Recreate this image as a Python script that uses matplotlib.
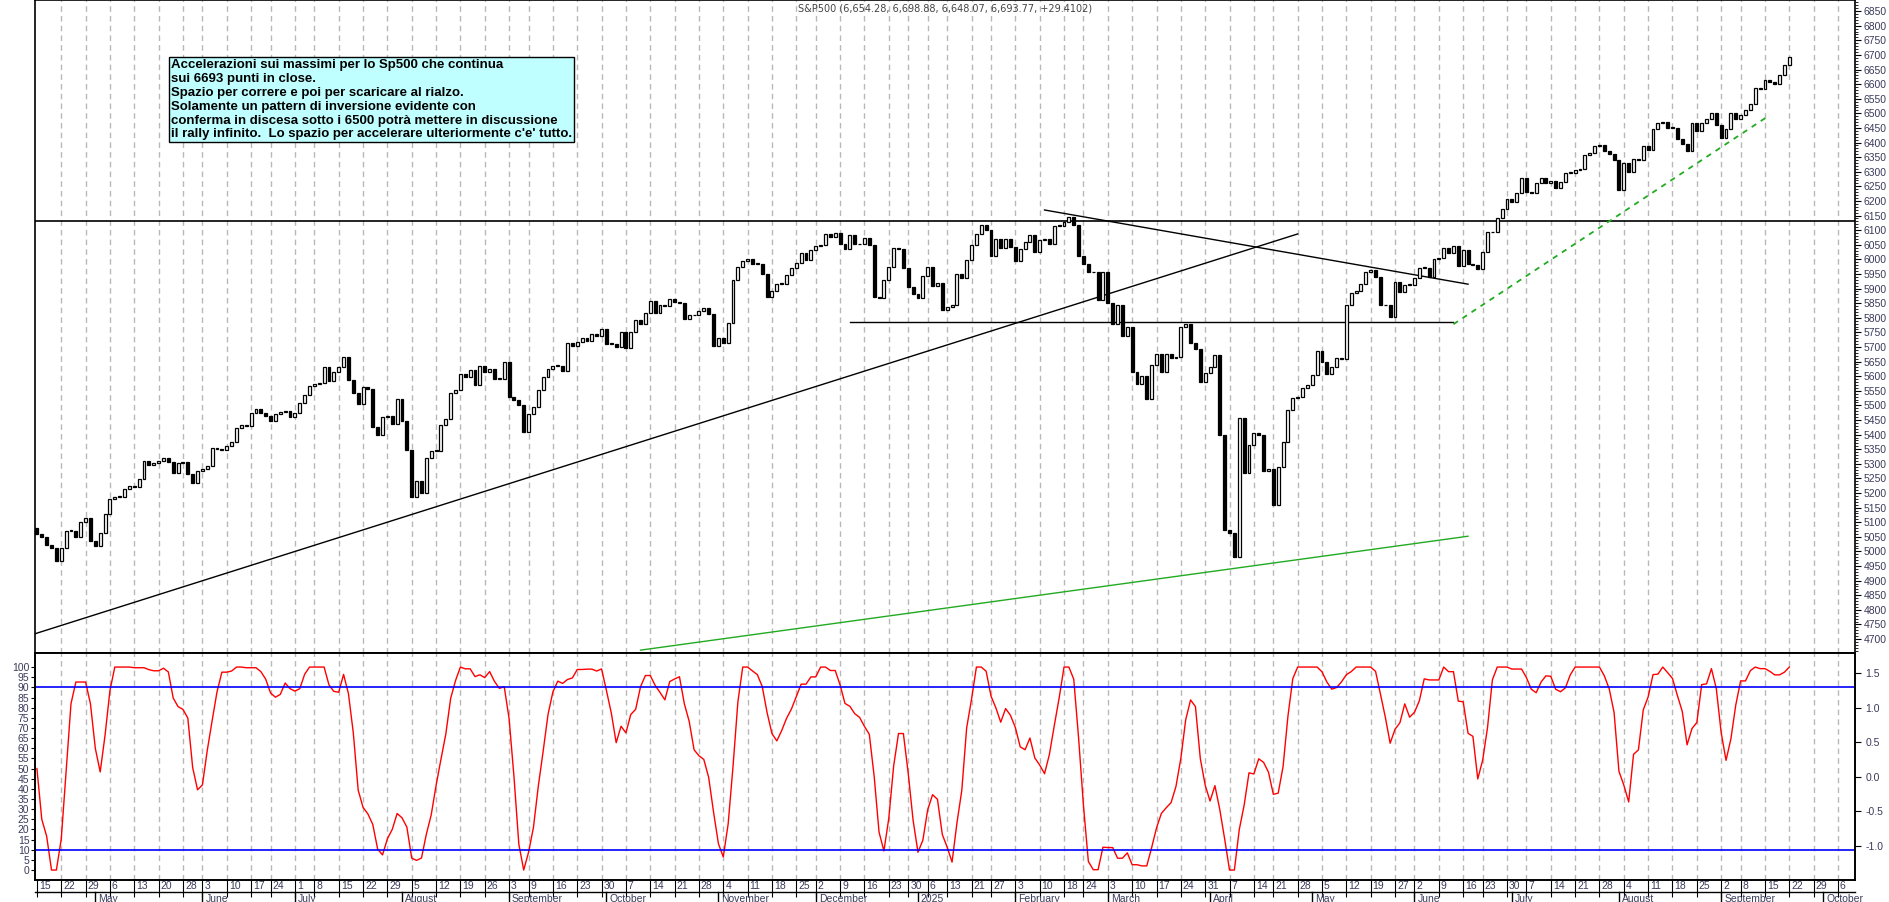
import io
import pandas as pd
import numpy as np
import matplotlib
matplotlib.use("Agg")
import matplotlib.pyplot as plt

# daily closes, S&P500
closes_text = """
2024-04-15 5061
2024-04-16 5051
2024-04-17 5022
2024-04-18 5011
2024-04-19 4967
2024-04-22 5010
2024-04-23 5070
2024-04-24 5071
2024-04-25 5048
2024-04-26 5100
2024-04-29 5116
2024-04-30 5035
2024-05-01 5018
2024-05-02 5064
2024-05-03 5128
2024-05-06 5181
2024-05-07 5187
2024-05-08 5188
2024-05-09 5214
2024-05-10 5223
2024-05-13 5221
2024-05-14 5247
2024-05-15 5308
2024-05-16 5297
2024-05-17 5303
2024-05-20 5308
2024-05-21 5321
2024-05-22 5307
2024-05-23 5267
2024-05-24 5304
2024-05-28 5306
2024-05-29 5266
2024-05-30 5235
2024-05-31 5277
2024-06-03 5283
2024-06-04 5291
2024-06-05 5354
2024-06-06 5352
2024-06-07 5347
2024-06-10 5360
2024-06-11 5375
2024-06-12 5421
2024-06-13 5433
2024-06-14 5431
2024-06-17 5473
2024-06-18 5487
2024-06-20 5473
2024-06-21 5464
2024-06-24 5447
2024-06-25 5469
2024-06-26 5477
2024-06-27 5482
2024-06-28 5460
2024-07-01 5475
2024-07-02 5509
2024-07-03 5537
2024-07-05 5567
2024-07-08 5572
2024-07-09 5577
2024-07-10 5633
2024-07-11 5584
2024-07-12 5615
2024-07-15 5631
2024-07-16 5667
2024-07-17 5588
2024-07-18 5544
2024-07-19 5505
2024-07-22 5564
2024-07-23 5555
2024-07-24 5427
2024-07-25 5399
2024-07-26 5459
2024-07-29 5463
2024-07-30 5436
2024-07-31 5522
2024-08-01 5446
2024-08-02 5346
2024-08-05 5186
2024-08-06 5240
2024-08-07 5199
2024-08-08 5319
2024-08-09 5344
2024-08-12 5344
2024-08-13 5434
2024-08-14 5455
2024-08-15 5543
2024-08-16 5554
2024-08-19 5608
2024-08-20 5597
2024-08-21 5621
2024-08-22 5571
2024-08-23 5634
2024-08-26 5616
2024-08-27 5626
2024-08-28 5592
2024-08-29 5592
2024-08-30 5648
2024-09-03 5529
2024-09-04 5520
2024-09-05 5503
2024-09-06 5408
2024-09-09 5471
2024-09-10 5496
2024-09-11 5554
2024-09-12 5596
2024-09-13 5626
2024-09-16 5634
2024-09-17 5634
2024-09-18 5618
2024-09-19 5714
2024-09-20 5703
2024-09-23 5718
2024-09-24 5732
2024-09-25 5722
2024-09-26 5745
2024-09-27 5738
2024-09-30 5762
2024-10-01 5709
2024-10-02 5710
2024-10-03 5699
2024-10-04 5751
2024-10-07 5696
2024-10-08 5751
2024-10-09 5792
2024-10-10 5780
2024-10-11 5815
2024-10-14 5859
2024-10-15 5815
2024-10-16 5842
2024-10-17 5841
2024-10-18 5864
2024-10-21 5853
2024-10-22 5851
2024-10-23 5797
2024-10-24 5809
2024-10-25 5808
2024-10-28 5823
2024-10-29 5832
2024-10-30 5813
2024-10-31 5705
2024-11-01 5729
2024-11-04 5712
2024-11-05 5782
2024-11-06 5929
2024-11-07 5973
2024-11-08 5995
2024-11-11 6001
2024-11-12 5984
2024-11-13 5985
2024-11-14 5949
2024-11-15 5870
2024-11-18 5893
2024-11-19 5917
2024-11-20 5917
2024-11-21 5948
2024-11-22 5969
2024-11-25 5987
2024-11-26 6021
2024-11-27 5999
2024-11-29 6032
2024-12-02 6047
2024-12-03 6050
2024-12-04 6086
2024-12-05 6075
2024-12-06 6090
2024-12-09 6053
2024-12-10 6034
2024-12-11 6084
2024-12-12 6051
2024-12-13 6051
2024-12-16 6074
2024-12-17 6050
2024-12-18 5872
2024-12-19 5867
2024-12-20 5930
2024-12-23 5974
2024-12-24 6040
2024-12-26 6037
2024-12-27 5971
2024-12-30 5907
2024-12-31 5882
2025-01-02 5869
2025-01-03 5942
2025-01-06 5975
2025-01-07 5909
2025-01-08 5918
2025-01-10 5827
2025-01-13 5836
2025-01-14 5843
2025-01-15 5950
2025-01-16 5937
2025-01-17 5997
2025-01-21 6049
2025-01-22 6086
2025-01-23 6119
2025-01-24 6101
2025-01-27 6012
2025-01-28 6068
2025-01-29 6039
2025-01-30 6071
2025-01-31 6041
2025-02-03 5994
2025-02-04 6037
2025-02-05 6061
2025-02-06 6084
2025-02-07 6026
2025-02-10 6066
2025-02-11 6068
2025-02-12 6052
2025-02-13 6115
2025-02-14 6115
2025-02-18 6129
2025-02-19 6144
2025-02-20 6117
2025-02-21 6013
2025-02-24 5983
2025-02-25 5955
2025-02-26 5956
2025-02-27 5861
2025-02-28 5955
2025-03-03 5850
2025-03-04 5778
2025-03-05 5842
2025-03-06 5738
2025-03-07 5770
2025-03-10 5615
2025-03-11 5572
2025-03-12 5599
2025-03-13 5522
2025-03-14 5639
2025-03-17 5675
2025-03-18 5615
2025-03-19 5675
2025-03-20 5663
2025-03-21 5667
2025-03-24 5768
2025-03-25 5777
2025-03-26 5712
2025-03-27 5693
2025-03-28 5581
2025-03-31 5612
2025-04-01 5633
2025-04-02 5671
2025-04-03 5397
2025-04-04 5074
2025-04-07 5062
2025-04-08 4982
2025-04-09 5457
2025-04-10 5268
2025-04-11 5363
2025-04-14 5406
2025-04-15 5397
2025-04-16 5276
2025-04-17 5283
2025-04-21 5158
2025-04-22 5288
2025-04-23 5376
2025-04-24 5485
2025-04-25 5525
2025-04-28 5529
2025-04-29 5561
2025-04-30 5569
2025-05-01 5604
2025-05-02 5687
2025-05-05 5650
2025-05-06 5607
2025-05-07 5631
2025-05-08 5663
2025-05-09 5660
2025-05-12 5844
2025-05-13 5886
2025-05-14 5892
2025-05-15 5917
2025-05-16 5958
2025-05-19 5964
2025-05-20 5941
2025-05-21 5845
2025-05-22 5842
2025-05-23 5803
2025-05-27 5922
2025-05-28 5889
2025-05-29 5912
2025-05-30 5912
2025-06-02 5936
2025-06-03 5970
2025-06-04 5971
2025-06-05 5939
2025-06-06 6000
2025-06-09 6006
2025-06-10 6038
2025-06-11 6022
2025-06-12 6045
2025-06-13 5977
2025-06-16 6033
2025-06-17 5983
2025-06-18 5981
2025-06-20 5968
2025-06-23 6025
2025-06-24 6092
2025-06-25 6092
2025-06-26 6141
2025-06-27 6173
2025-06-30 6205
2025-07-01 6198
2025-07-02 6227
2025-07-03 6279
2025-07-07 6230
2025-07-08 6226
2025-07-09 6263
2025-07-10 6280
2025-07-11 6260
2025-07-14 6269
2025-07-15 6244
2025-07-16 6264
2025-07-17 6297
2025-07-18 6297
2025-07-21 6306
2025-07-22 6309
2025-07-23 6359
2025-07-24 6363
2025-07-25 6389
2025-07-28 6390
2025-07-29 6371
2025-07-30 6362
2025-07-31 6339
2025-08-01 6238
2025-08-04 6330
2025-08-05 6299
2025-08-06 6345
2025-08-07 6340
2025-08-08 6389
2025-08-11 6374
2025-08-12 6446
2025-08-13 6466
2025-08-14 6469
2025-08-15 6450
2025-08-18 6449
2025-08-19 6411
2025-08-20 6396
2025-08-21 6370
2025-08-22 6467
2025-08-25 6440
2025-08-26 6466
2025-08-27 6481
2025-08-28 6502
2025-08-29 6460
2025-09-02 6416
2025-09-03 6448
2025-09-04 6502
2025-09-05 6482
2025-09-08 6495
2025-09-09 6512
2025-09-10 6532
2025-09-11 6588
2025-09-12 6584
2025-09-15 6615
2025-09-16 6607
2025-09-17 6600
2025-09-18 6631
2025-09-19 6664
2025-09-22 6694
"""
future_dates = ["2025-09-23", "2025-09-24", "2025-09-25", "2025-09-26", "2025-09-29",
                "2025-09-30", "2025-10-01", "2025-10-02", "2025-10-03", "2025-10-06"]

# trend lines drawn on the chart: (start index, start price, end index, end price)
trend_black = [(-0.4, 4718, 259, 6087), (207, 6169, 294, 5915), (167, 5785, 291, 5785)]
trend_green = (124, 4662, 294, 5052)
trend_green_dash = (291, 5778, 356, 6494)
resistance = 6131
osc_levels = [90, 10]

note = ("Accelerazioni sui massimi per lo Sp500 che continua\n"
        "sui 6693 punti in close.\n"
        "Spazio per correre e poi per scaricare al rialzo.\n"
        "Solamente un pattern di inversione evidente con\n"
        "conferma in discesa sotto i 6500 potrà mettere in discussione\n"
        "il rally infinito.  Lo spazio per accelerare ulteriormente c'e' tutto.")
title = "S&P500 (6,654.28, 6,698.88, 6,648.07, 6,693.77, +29.4102)"

df = pd.read_csv(io.StringIO(closes_text.strip()), sep=" ", names=["date", "close"])
df["date"] = pd.to_datetime(df["date"])
df["open"] = df["close"].shift(1).fillna(df["close"].iloc[0] + 20)
n = len(df)
x = np.arange(n)

# stochastic oscillator of the closes
win = 14
lo = df["close"].rolling(win, min_periods=1).min()
hi = df["close"].rolling(win, min_periods=1).max()
k = 100 * (df["close"] - lo) / (hi - lo).replace(0, np.nan)
osc = k.fillna(50).rolling(3, min_periods=1).mean()

all_dates = pd.concat([df["date"], pd.Series(pd.to_datetime(future_dates))], ignore_index=True)

lab_col = "#3a3a5a"
tick_font = dict(family="Liberation Sans", size=7.5)
fig = plt.figure(figsize=(18.9, 9.02), dpi=100)
ax = fig.add_axes([0.0185, 0.276, 0.963, 0.724])
ax2 = fig.add_axes([0.0185, 0.0244, 0.963, 0.2516], sharex=ax)

# week grid
week = all_dates.dt.to_period("W")
week_starts = [i for i in range(len(all_dates)) if i == 0 or week[i] != week[i - 1]]
for a in (ax, ax2):
    for i in week_starts[1:]:
        a.axvline(i, color="#b8b8b8", lw=1, ls=(0, (4, 3)), zorder=0)

# candles
up = df["close"] >= df["open"]
body_lo = np.minimum(df["open"], df["close"])
body_h = np.abs(df["close"] - df["open"]).clip(lower=3)
ax.bar(x[up], body_h[up], bottom=body_lo[up], width=0.6, color="white", edgecolor="black", lw=0.9, zorder=3)
ax.bar(x[~up], body_h[~up], bottom=body_lo[~up], width=0.6, color="black", edgecolor="black", lw=0.9, zorder=3)

ax.axhline(resistance, color="black", lw=1.2)
for x0, y0, x1, y1 in trend_black:
    ax.plot([x0, x1], [y0, y1], color="black", lw=1)
ax.plot(trend_green[::2], trend_green[1::2], color="#22aa22", lw=1)
ax.plot(trend_green_dash[::2], trend_green_dash[1::2], color="#22aa22", lw=1.3, ls=(0, (3, 3)))

ax.set_xlim(-0.4, 373.5)
ax.set_ylim(4652, 6888)
ax.yaxis.tick_right()
ax.set_yticks(np.arange(4700, 6851, 50))
ax.set_yticks(np.arange(4660, 6888, 10), minor=True)
ax.tick_params(axis="y", colors="black", labelcolor=lab_col, length=4, direction="out", pad=2)
ax.tick_params(axis="y", which="minor", length=2)
for lbl in ax.get_yticklabels():
    lbl.set_fontproperties(tick_font)
ax.tick_params(axis="x", bottom=False, labelbottom=False)

ax.text(0.5, 0.995, title, transform=ax.transAxes, ha="center", va="top", fontsize=7, color="#444444")
ax.text(0.0746, 0.909, note, transform=ax.transAxes, ha="left", va="top", fontsize=9.5,
        fontweight="bold", linespacing=1.2, family="Liberation Sans",
        bbox=dict(boxstyle="square,pad=0.15", facecolor="#c0ffff", edgecolor="black", lw=1))

# oscillator panel
ax2.plot(x, osc, color="red", lw=1)
for lv in osc_levels:
    ax2.axhline(lv, color="blue", lw=1.2)
ax2.set_ylim(-4.9, 106.9)
ax2.set_yticks(np.arange(0, 101, 5))
ax2.tick_params(axis="y", labelcolor=lab_col, length=3, pad=1)
for lbl in ax2.get_yticklabels():
    lbl.set_fontproperties(tick_font)
ax2r = ax2.twinx()
ax2r.set_ylim(-1.49, 1.79)
rticks = np.arange(-1.0, 1.51, 0.5)
ax2r.set_yticks(rticks)
ax2r.set_yticklabels([f"{v:.1f}" for v in rticks])
ax2r.tick_params(axis="y", labelcolor=lab_col, length=4)
for lbl in ax2r.get_yticklabels():
    lbl.set_fontproperties(tick_font)

ax2.set_xticks(week_starts)
ax2.set_xticklabels([str(all_dates[i].day) for i in week_starts], ha="left", color=lab_col)
ax2.tick_params(axis="x", length=12, direction="out", pad=-11)
for lbl in ax2.xaxis.get_majorticklabels():
    lbl.set_fontproperties(tick_font)
    lbl.set_transform(lbl.get_transform() + matplotlib.transforms.ScaledTranslation(2 / 100, 0, fig.dpi_scale_trans))

# month row: label at first trading day of each month
month = all_dates.dt.to_period("M")
for i in range(1, len(all_dates)):
    if month[i] == month[i - 1]:
        continue
    d = all_dates[i]
    name = "2025" if d.month == 1 else d.strftime("%B")
    ax2.plot([i, i], [-0.055, -0.1], transform=ax2.get_xaxis_transform(), color="black", lw=1, clip_on=False)
    ax2.text(i + 0.6, -0.06, name, transform=ax2.get_xaxis_transform(), ha="left", va="top",
             fontproperties=tick_font, color=lab_col, clip_on=False)
ax2.plot([-0.4, 373.5], [-0.055, -0.055], transform=ax2.get_xaxis_transform(), color="black", lw=1, clip_on=False)

for a in (ax, ax2, ax2r):
    for s in a.spines.values():
        s.set_linewidth(1.2)

fig.savefig("out.png", dpi=100)
